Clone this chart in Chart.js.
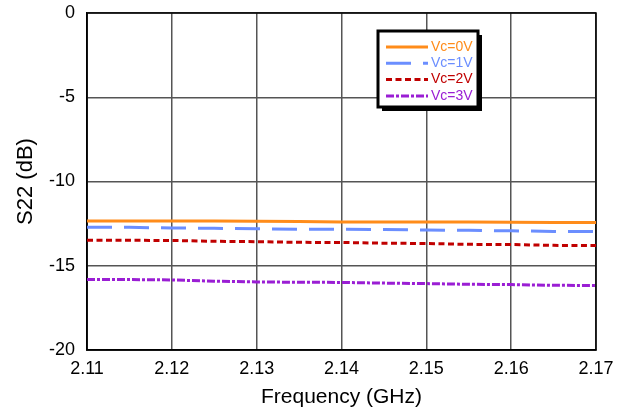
<!DOCTYPE html>
<html>
<head>
<meta charset="utf-8">
<script src="https://cdn.jsdelivr.net/npm/chart.js@4.4.0/dist/chart.umd.min.js"></script>
<style>
  html, body { margin: 0; padding: 0; background: #fff; }
  #wrap { width: 625px; height: 412px; }
</style>
</head>
<body>
<div id="wrap"><canvas id="s22Chart" width="625" height="412"></canvas></div>
<script>
// frequency points (GHz)
const freqs = [2.110, 2.115, 2.120, 2.125, 2.130, 2.135, 2.140, 2.145, 2.150, 2.155, 2.160, 2.165, 2.170];

// S22 (dB) per control voltage
const vc0 = [-12.35, -12.35, -12.35, -12.35, -12.36, -12.37, -12.40, -12.40, -12.40, -12.41, -12.42, -12.44, -12.44];
const vc1 = [-12.72, -12.72, -12.76, -12.78, -12.80, -12.84, -12.84, -12.85, -12.88, -12.90, -12.93, -12.96, -12.97];
const vc2 = [-13.49, -13.49, -13.50, -13.55, -13.57, -13.61, -13.62, -13.66, -13.68, -13.73, -13.74, -13.79, -13.80];
const vc3 = [-15.81, -15.82, -15.84, -15.92, -15.96, -15.98, -15.99, -16.03, -16.06, -16.10, -16.12, -16.16, -16.17];

const seriesLabels = ["Vc=0V", "Vc=1V", "Vc=2V", "Vc=3V"];

// axis ranges
const xTicks = [2.11, 2.12, 2.13, 2.14, 2.15, 2.16, 2.17];
const yTicks = [-20, -15, -10, -5, 0];

function toPoints(values) {
  return freqs.map((f, i) => ({ x: f, y: values[i] }));
}

// box legend drawn inside the plot, with a drop shadow
const boxLegend = {
  id: "boxLegend",
  afterDraw(chart) {
    const ctx = chart.ctx;
    const area = chart.chartArea;
    const x = area.left + 291;
    const y = area.top + 18;
    const w = 100;
    const h = 76;

    ctx.save();
    // shadow
    ctx.fillStyle = "#000";
    ctx.fillRect(x + 4, y + 4, w, h);
    // box
    ctx.fillStyle = "#fff";
    ctx.fillRect(x, y, w, h);
    ctx.lineWidth = 3;
    ctx.strokeStyle = "#000";
    ctx.strokeRect(x, y, w, h);

    ctx.font = "14px Arial, 'Liberation Sans', sans-serif";
    ctx.textBaseline = "middle";
    chart.data.datasets.forEach((ds, i) => {
      const rowY = y + 16 + i * 16.3;
      ctx.beginPath();
      ctx.lineWidth = ds.borderWidth;
      ctx.strokeStyle = ds.borderColor;
      ctx.setLineDash(ds.borderDash || []);
      ctx.moveTo(x + 8, rowY);
      ctx.lineTo(x + 50, rowY);
      ctx.stroke();
      ctx.setLineDash([]);
      ctx.fillStyle = ds.borderColor;
      ctx.fillText(ds.label, x + 53, rowY);
    });
    ctx.restore();
  },
};

// black frame around the plot area
const plotFrame = {
  id: "plotFrame",
  beforeDatasetsDraw(chart) {
    const ctx = chart.ctx;
    const a = chart.chartArea;
    ctx.save();
    ctx.lineWidth = 1.5;
    ctx.strokeStyle = "#000";
    ctx.strokeRect(a.left, a.top, a.right - a.left, a.bottom - a.top);
    ctx.restore();
  },
};

const tickFont = { family: "Arial, 'Liberation Sans', sans-serif", size: 18 };

new Chart(document.getElementById("s22Chart"), {
  type: "line",
  data: {
    datasets: [
      {
        label: seriesLabels[0],
        data: toPoints(vc0),
        borderColor: "#FF8C1A",
        borderWidth: 3,
      },
      {
        label: seriesLabels[1],
        data: toPoints(vc1),
        borderColor: "#6B8EFF",
        borderWidth: 3,
        borderDash: [25, 12],
      },
      {
        label: seriesLabels[2],
        data: toPoints(vc2),
        borderColor: "#C00000",
        borderWidth: 3,
        borderDash: [6, 3.5],
      },
      {
        label: seriesLabels[3],
        data: toPoints(vc3),
        borderColor: "#9A1ED4",
        borderWidth: 3,
        borderDash: [8, 2, 3, 2],
      },
    ],
  },
  options: {
    responsive: false,
    animation: false,
    layout: { padding: { top: 13, right: 29, left: 0, bottom: 0 } },
    elements: { point: { radius: 0 }, line: { tension: 0 } },
    plugins: {
      legend: { display: false },
      tooltip: { enabled: false },
    },
    scales: {
      x: {
        type: "linear",
        min: xTicks[0],
        max: xTicks[xTicks.length - 1],
        afterBuildTicks: (axis) => {
          axis.ticks = xTicks.map((v) => ({ value: v }));
        },
        afterFit: (axis) => {
          axis.height = 62;
          axis.paddingLeft = 0;
          axis.paddingRight = 0;
        },
        ticks: {
          color: "#000",
          font: tickFont,
          padding: 8,
          maxRotation: 0,
          autoSkip: false,
          callback: (value) => Number(value).toFixed(2),
        },
        grid: { color: "#555", lineWidth: 1.5, drawTicks: false },
        border: { color: "#000", width: 1.5 },
        title: {
          display: true,
          text: "Frequency (GHz)",
          color: "#000",
          font: { family: "Arial, 'Liberation Sans', sans-serif", size: 21 },
          padding: { top: 0, bottom: 2 },
        },
      },
      y: {
        min: yTicks[0],
        max: yTicks[yTicks.length - 1],
        afterBuildTicks: (axis) => {
          axis.ticks = yTicks.map((v) => ({ value: v }));
        },
        afterFit: (axis) => {
          axis.width = 87;
          axis.paddingTop = 0;
          axis.paddingBottom = 0;
        },
        ticks: {
          color: "#000",
          font: tickFont,
          padding: 12,
          autoSkip: false,
        },
        grid: { color: "#555", lineWidth: 1.5, drawTicks: false },
        border: { color: "#000", width: 1.5 },
        title: {
          display: true,
          text: "S22 (dB)",
          color: "#000",
          font: { family: "Arial, 'Liberation Sans', sans-serif", size: 22 },
          padding: { top: 13, bottom: 0 },
        },
      },
    },
  },
  plugins: [plotFrame, boxLegend],
});
</script>
</body>
</html>
